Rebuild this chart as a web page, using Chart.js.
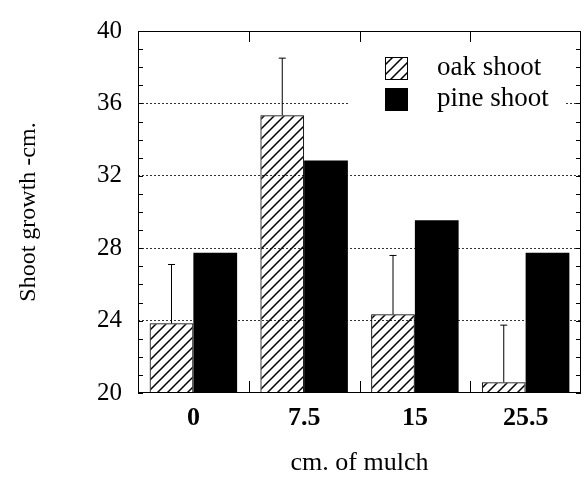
<!DOCTYPE html>
<html>
<head>
<meta charset="utf-8">
<script src="https://cdn.jsdelivr.net/npm/chart.js@4"></script>
<style>
  html, body { margin: 0; padding: 0; background: #fff; }
  #wrap { width: 588px; height: 480px; }
</style>
</head>
<body>
<div id="wrap"><canvas id="myChart" width="588" height="480"></canvas></div>
<script>
const mulch = ["0", "7.5", "15", "25.5"];
const oakShoot = [23.85, 35.35, 24.35, 20.6];
const oakErrTop = [27.1, 38.5, 27.6, 23.75];
const pineShoot = [27.75, 32.85, 29.55, 27.75];
const yTicks = [20, 24, 28, 32, 36, 40];

const ctx = document.getElementById("myChart");
const serif = "'Liberation Serif', 'Times New Roman', serif";

function hatch(size) {
  const c = document.createElement("canvas");
  c.width = size;
  c.height = size;
  const g = c.getContext("2d");
  g.strokeStyle = "#000";
  g.lineWidth = 1.5;
  g.beginPath();
  g.moveTo(-1, 1); g.lineTo(1, -1);
  g.moveTo(0, size); g.lineTo(size, 0);
  g.moveTo(size - 1, size + 1); g.lineTo(size + 1, size - 1);
  g.stroke();
  return g.createPattern(c, "repeat");
}

const oakFill = hatch(10);

// frame, inward ticks, error bars and the boxed legend
const decor = {
  id: "decor",
  afterDatasetsDraw(chart) {
    const { ctx: c, chartArea: a, scales } = chart;
    const y = scales.y;
    c.save();
    c.strokeStyle = "#000";
    c.lineWidth = 1;

    // error bars on oak shoot
    const meta = chart.getDatasetMeta(0);
    meta.data.forEach((bar, i) => {
      const top = y.getPixelForValue(oakErrTop[i]);
      c.beginPath();
      c.moveTo(bar.x, bar.y);
      c.lineTo(bar.x, top);
      c.moveTo(bar.x - 3.5, top);
      c.lineTo(bar.x + 3.5, top);
      c.stroke();
    });

    // frame
    c.strokeRect(a.left + 0.5, a.top + 0.5, a.right - a.left - 1, a.bottom - a.top - 1);

    // minor y ticks, left and right
    c.beginPath();
    for (let v = yTicks[0]; v <= yTicks[yTicks.length - 1]; v++) {
      const py = Math.round(y.getPixelForValue(v)) + 0.5;
      c.moveTo(a.left, py); c.lineTo(a.left + 5, py);
      c.moveTo(a.right, py); c.lineTo(a.right - 5, py);
    }
    // category boundary ticks, top and bottom
    const step = (a.right - a.left) / mulch.length;
    for (let i = 1; i < mulch.length; i++) {
      const px = Math.round(a.left + step * i) + 0.5;
      c.moveTo(px, a.top); c.lineTo(px, a.top + 11);
      c.moveTo(px, a.bottom); c.lineTo(px, a.bottom - 12);
    }
    c.stroke();

    // legend
    c.fillStyle = "#fff";
    c.fillRect(350, 46, 215, 74);
    const items = chart.data.datasets;
    items.forEach((ds, i) => {
      const sy = 57 + i * 31;
      c.fillStyle = ds.backgroundColor;
      c.fillRect(385, sy, 23, 23);
      c.strokeRect(385.5, sy + 0.5, 22, 22);
      c.fillStyle = "#000";
      c.font = "27px " + serif;
      c.textBaseline = "middle";
      c.textAlign = "left";
      c.fillText(ds.label, 437, sy + 11);
    });
    c.restore();
  },
};

new Chart(ctx, {
  type: "bar",
  data: {
    labels: mulch,
    datasets: [
      {
        label: "oak shoot",
        data: oakShoot,
        backgroundColor: oakFill,
        borderColor: "#000",
        borderWidth: 1,
        borderSkipped: "bottom",
      },
      {
        label: "pine shoot",
        data: pineShoot,
        backgroundColor: "#000",
        borderWidth: 0,
      },
    ],
  },
  options: {
    responsive: false,
    animation: false,
    layout: { padding: { top: 17, right: 7, left: 0, bottom: 0 } },
    categoryPercentage: 0.79,
    barPercentage: 1,
    plugins: {
      legend: { display: false },
      tooltip: { enabled: false },
    },
    scales: {
      x: {
        grid: { display: false, drawTicks: false },
        border: { display: false },
        ticks: {
          color: "#000",
          padding: 10,
          font: { family: serif, size: 26, weight: "bold" },
        },
        title: {
          display: true,
          text: "cm. of mulch",
          color: "#000",
          font: { family: serif, size: 26 },
          padding: { top: 0, bottom: 1 },
        },
        afterFit(scale) {
          scale.height = 87;
        },
      },
      y: {
        min: yTicks[0],
        max: yTicks[yTicks.length - 1],
        afterBuildTicks(scale) {
          scale.ticks = yTicks.map((v) => ({ value: v }));
        },
        grid: {
          drawTicks: false,
          color: (c) =>
            c.tick && (c.tick.value === yTicks[0] || c.tick.value === yTicks[yTicks.length - 1])
              ? "rgba(0,0,0,0)"
              : "#333",
          lineWidth: 1,
        },
        border: { display: false, dash: [2, 2] },
        ticks: {
          color: "#000",
          padding: 16,
          font: { family: serif, size: 25 },
        },
        title: {
          display: true,
          text: "Shoot growth -cm.",
          color: "#000",
          font: { family: serif, size: 24 },
          padding: { top: 14, bottom: 0 },
        },
        afterFit(scale) {
          scale.width = 138;
        },
      },
    },
  },
  plugins: [decor],
});
</script>
</body>
</html>
